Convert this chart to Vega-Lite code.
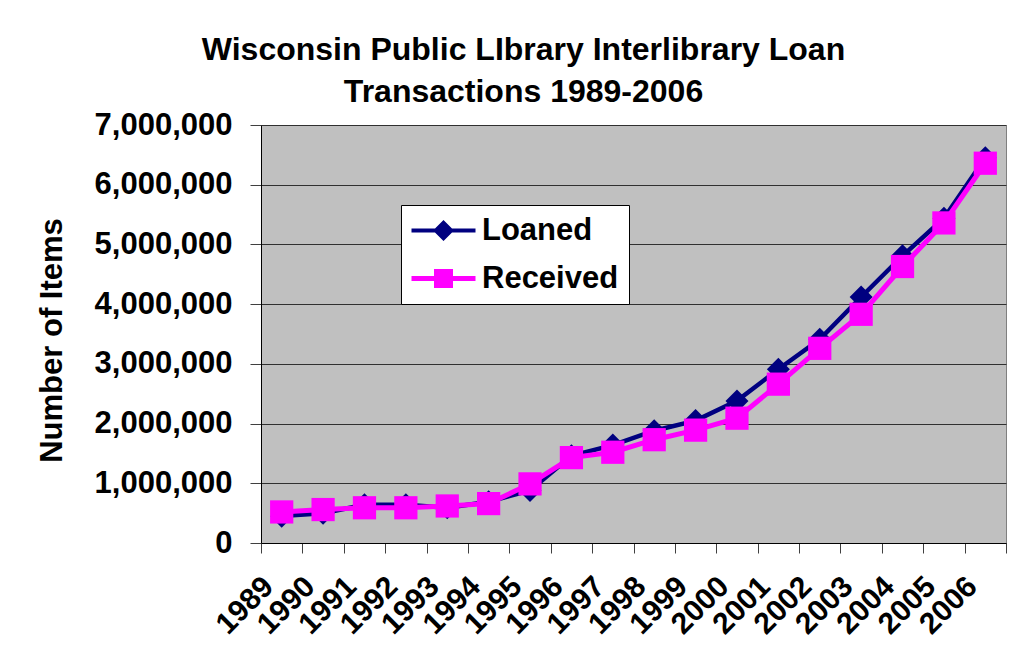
{
  "$schema": "https://vega.github.io/schema/vega-lite/v6.json",
  "width": 745,
  "height": 418,
  "autosize": {"type": "none"},
  "padding": {"left": 261, "top": 125, "right": 17, "bottom": 123},
  "background": "white",
  "title": {
    "text": ["Wisconsin Public LIbrary Interlibrary Loan", "Transactions 1989-2006"],
    "anchor": "middle",
    "frame": "group",
    "dx": -110,
    "font": "Liberation Sans",
    "fontSize": 32,
    "fontWeight": "bold",
    "color": "black",
    "lineHeight": 42,
    "offset": 0
  },
  "data": {
    "values": [
      {"year": "1989", "series": "Loaned", "items": 450000},
      {"year": "1990", "series": "Loaned", "items": 500000},
      {"year": "1991", "series": "Loaned", "items": 640000},
      {"year": "1992", "series": "Loaned", "items": 640000},
      {"year": "1993", "series": "Loaned", "items": 590000},
      {"year": "1994", "series": "Loaned", "items": 690000},
      {"year": "1995", "series": "Loaned", "items": 880000},
      {"year": "1996", "series": "Loaned", "items": 1460000},
      {"year": "1997", "series": "Loaned", "items": 1640000},
      {"year": "1998", "series": "Loaned", "items": 1880000},
      {"year": "1999", "series": "Loaned", "items": 2050000},
      {"year": "2000", "series": "Loaned", "items": 2380000},
      {"year": "2001", "series": "Loaned", "items": 2910000},
      {"year": "2002", "series": "Loaned", "items": 3410000},
      {"year": "2003", "series": "Loaned", "items": 4120000},
      {"year": "2004", "series": "Loaned", "items": 4810000},
      {"year": "2005", "series": "Loaned", "items": 5440000},
      {"year": "2006", "series": "Loaned", "items": 6450000},
      {"year": "1989", "series": "Received", "items": 520000},
      {"year": "1990", "series": "Received", "items": 560000},
      {"year": "1991", "series": "Received", "items": 590000},
      {"year": "1992", "series": "Received", "items": 590000},
      {"year": "1993", "series": "Received", "items": 620000},
      {"year": "1994", "series": "Received", "items": 660000},
      {"year": "1995", "series": "Received", "items": 990000},
      {"year": "1996", "series": "Received", "items": 1430000},
      {"year": "1997", "series": "Received", "items": 1520000},
      {"year": "1998", "series": "Received", "items": 1730000},
      {"year": "1999", "series": "Received", "items": 1890000},
      {"year": "2000", "series": "Received", "items": 2090000},
      {"year": "2001", "series": "Received", "items": 2660000},
      {"year": "2002", "series": "Received", "items": 3260000},
      {"year": "2003", "series": "Received", "items": 3830000},
      {"year": "2004", "series": "Received", "items": 4630000},
      {"year": "2005", "series": "Received", "items": 5360000},
      {"year": "2006", "series": "Received", "items": 6360000}
    ]
  },
  "encoding": {
    "x": {
      "field": "year",
      "type": "ordinal",
      "scale": {"type": "band", "paddingInner": 0, "paddingOuter": 0},
      "axis": {
        "title": null,
        "labelAngle": -45,
        "labelFont": "Liberation Sans",
        "labelFontSize": 30,
        "labelFontWeight": "bold",
        "labelColor": "black",
        "labelOverlap": false,
        "labelBound": false,
        "labelPadding": 18,
        "labelOffset": -24,
        "tickBand": "extent",
        "tickSize": 10,
        "tickColor": "#404040",
        "domainColor": "black",
        "grid": false
      }
    },
    "y": {
      "field": "items",
      "type": "quantitative",
      "scale": {"domain": [0, 7000000], "nice": false, "zero": true},
      "axis": {
        "title": "Number of Items",
        "titleFont": "Liberation Sans",
        "titleFontSize": 31,
        "titleFontWeight": "bold",
        "titleColor": "black",
        "titlePadding": 26,
        "titleY": 215,
        "values": [0, 1000000, 2000000, 3000000, 4000000, 5000000, 6000000, 7000000],
        "format": ",d",
        "labelFont": "Liberation Sans",
        "labelFontSize": 31,
        "labelFontWeight": "bold",
        "labelColor": "black",
        "labelPadding": 18,
        "labelOverlap": false,
        "tickSize": 11,
        "tickColor": "#404040",
        "domainColor": "black",
        "grid": true,
        "gridColor": "#303030",
        "gridWidth": 1
      }
    },
    "color": {
      "field": "series",
      "type": "nominal",
      "scale": {"domain": ["Loaned", "Received"], "range": ["#000080", "#FF00FF"]},
      "legend": {
        "title": null,
        "orient": "none",
        "legendX": 140,
        "legendY": 80,
        "fillColor": "white",
        "strokeColor": "black",
        "padding": 10,
        "labelFont": "Liberation Sans",
        "labelFontSize": 31,
        "labelFontWeight": "bold",
        "labelColor": "black",
        "symbolSize": 400,
        "labelOffset": 40,
        "rowPadding": 16,
        "encode": {
          "symbols": {
            "update": {
              "shape": {"signal": "datum.value === 'Loaned' ? 'M-1.5,-0.2H4.9V0.2H-1.5Z M1.7,-1.05L2.75,0L1.7,1.05L0.65,0Z' : 'M-1.5,-0.25H4.9V0.25H-1.5Z M0.75,-0.95H2.65V0.95H0.75Z'"},
              "fill": {"signal": "datum.value === 'Loaned' ? '#000080' : '#FF00FF'"},
              "fillOpacity": {"value": 1},
              "opacity": {"value": 1},
              "strokeWidth": {"value": 0},
              "size": {"value": 400}
            }
          }
        }
      }
    }
  },
  "layer": [
    {
      "transform": [{"filter": "datum.series === 'Loaned'"}],
      "mark": {"type": "line", "strokeWidth": 4.5}
    },
    {
      "transform": [{"filter": "datum.series === 'Loaned'"}],
      "mark": {"type": "point", "shape": "diamond", "filled": true, "size": 529, "opacity": 1}
    },
    {
      "transform": [{"filter": "datum.series === 'Received'"}],
      "mark": {"type": "line", "strokeWidth": 5}
    },
    {
      "transform": [{"filter": "datum.series === 'Received'"}],
      "mark": {"type": "point", "shape": "square", "filled": true, "size": 540, "opacity": 1}
    }
  ],
  "config": {
    "view": {"fill": "#C0C0C0", "stroke": "#808080", "strokeWidth": 1}
  }
}
